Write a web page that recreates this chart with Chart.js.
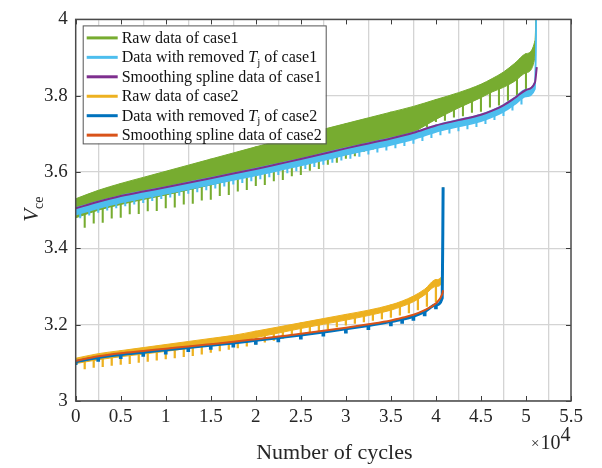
<!DOCTYPE html>
<html>
<head>
<meta charset="utf-8">
<script src="https://cdn.jsdelivr.net/npm/chart.js@4.4.1/dist/chart.umd.min.js"></script>
<style>
  html, body { margin: 0; background: #fff; }
</style>
</head>
<body>
<canvas id="chart" width="602" height="468"></canvas>
<script>
// ---- data (cycles, V) ----
const cycles1 = [0, 2500, 5000, 7500, 10000, 12500, 15000, 17500, 20000, 22500, 25000, 27500, 30000,
  32500, 35000, 37500, 40000, 42500, 45000, 46250, 47500, 48750, 50000, 51000, 51200];
const rawTop1 = [3.530, 3.552, 3.570, 3.586, 3.602, 3.618, 3.634, 3.650, 3.666, 3.682, 3.697, 3.712, 3.727,
  3.742, 3.757, 3.772, 3.790, 3.808, 3.830, 3.845, 3.862, 3.885, 3.910, 3.945, 4.1];
const rawBottom1 = [3.480, 3.500, 3.515, 3.528, 3.540, 3.553, 3.566, 3.580, 3.594, 3.608, 3.622, 3.637, 3.652,
  3.667, 3.682, 3.705, 3.738, 3.768, 3.795, 3.810, 3.822, 3.838, 3.860, 3.900, 4.1];
const removedHi1 = [3.506, 3.523, 3.538, 3.550, 3.561, 3.573, 3.585, 3.597, 3.609, 3.622, 3.635, 3.649, 3.663,
  3.676, 3.689, 3.704, 3.723, 3.737, 3.751, 3.762, 3.776, 3.795, 3.816, 3.836, 4.1];
const removedLo1 = [3.488, 3.505, 3.520, 3.532, 3.543, 3.555, 3.567, 3.579, 3.591, 3.604, 3.617, 3.631, 3.645,
  3.658, 3.671, 3.686, 3.705, 3.719, 3.733, 3.744, 3.758, 3.777, 3.798, 3.818, 4.1];
const smooth1 = [3.505, 3.522, 3.537, 3.549, 3.560, 3.572, 3.584, 3.596, 3.608, 3.621, 3.634, 3.648, 3.662,
  3.675, 3.688, 3.703, 3.722, 3.736, 3.750, 3.761, 3.775, 3.794, 3.815, 3.835, 3.875];

// downward dips of the raw / removed-Tj signals of case 1
const dipCycles1 = [1000, 2000, 3000, 4000, 5000, 6000, 7000, 8000, 9000, 10000, 11000, 12000, 13000, 14000,
  15000, 16000, 17000, 18000, 19000, 20000, 21000, 22000, 23000, 24000, 25000, 26000, 27000, 28000, 29000,
  30000, 31000, 32000, 33000, 34000, 35000, 36000, 37000, 38000, 39000, 40000, 41000, 42000, 43000, 44000,
  45000, 46000, 47000, 48000, 49000, 50000];
const rawDips1 = [3.455, 3.466, 3.468, 3.479, 3.481, 3.490, 3.491, 3.498, 3.499, 3.506, 3.508, 3.516, 3.518,
  3.526, 3.528, 3.538, 3.541, 3.550, 3.554, 3.564, 3.567, 3.577, 3.580, 3.590, 3.593, 3.604, 3.609, 3.620,
  3.625, 3.636, 3.642, 3.654, 3.660, 3.672, 3.678, 3.692, 3.699, 3.712, 3.719, 3.732, 3.735, 3.744, 3.747,
  3.756, 3.759, 3.770, 3.775, 3.788, 3.797, 3.812];
const remDipCycles1 = [500, 1500, 2500, 3500, 4500, 5500, 6500, 7500, 8500, 9500, 10500, 11500, 12500, 13500,
  14500, 15500, 16500, 17500, 18500, 19500, 20500, 21500, 22500, 23500, 24500, 25500, 26500, 27500, 28500,
  29500, 30500, 31500, 32500, 33500, 34500, 35500, 36500, 37500, 38500, 39500, 40500, 41500, 42500, 43500,
  44500, 45500, 46500, 47500, 48500, 49500];
const remDips1 = [3.480, 3.487, 3.494, 3.500, 3.506, 3.511, 3.516, 3.520, 3.525, 3.530, 3.534, 3.539, 3.544,
  3.548, 3.553, 3.558, 3.563, 3.568, 3.572, 3.577, 3.582, 3.587, 3.593, 3.598, 3.603, 3.609, 3.614, 3.620,
  3.625, 3.631, 3.636, 3.641, 3.647, 3.652, 3.657, 3.663, 3.669, 3.675, 3.682, 3.690, 3.697, 3.702, 3.708,
  3.713, 3.719, 3.727, 3.737, 3.748, 3.762, 3.778];

const cycles2 = [0, 2500, 5000, 7500, 10000, 12500, 15000, 17500, 20000, 22500, 25000, 27500, 30000,
  32500, 35000, 36250, 37500, 38750, 40000, 40700, 40800];
const rawTop2 = [3.112, 3.124, 3.132, 3.140, 3.148, 3.156, 3.164, 3.172, 3.183, 3.194, 3.205, 3.216, 3.227,
  3.238, 3.252, 3.262, 3.275, 3.293, 3.318, 3.330, 3.560];
const rawBottom2 = [3.098, 3.108, 3.116, 3.123, 3.130, 3.138, 3.146, 3.155, 3.166, 3.178, 3.190, 3.201, 3.212,
  3.224, 3.238, 3.248, 3.260, 3.278, 3.300, 3.310, 3.560];
const removed2 = [3.103, 3.114, 3.122, 3.128, 3.134, 3.140, 3.146, 3.152, 3.159, 3.166, 3.173, 3.181, 3.189,
  3.198, 3.208, 3.214, 3.222, 3.234, 3.252, 3.270, 3.560];
const smooth2 = [3.105, 3.117, 3.125, 3.131, 3.137, 3.143, 3.149, 3.155, 3.162, 3.169, 3.176, 3.184, 3.192,
  3.201, 3.211, 3.218, 3.226, 3.238, 3.256, 3.280, 3.290];

const dipCycles2 = [1000, 2000, 3000, 4000, 5000, 6000, 7000, 8000, 9000, 10000, 11000, 12000, 13000, 14000,
  15000, 16000, 17000, 18000, 19000, 20000, 21000, 22000, 23000, 24000, 25000, 26000, 27000, 28000, 29000,
  30000, 31000, 32000, 33000, 34000, 35000, 36000, 37000, 38000, 39000, 40000];
const rawDips2 = [3.084, 3.088, 3.090, 3.093, 3.096, 3.098, 3.101, 3.104, 3.107, 3.110, 3.113, 3.116, 3.119,
  3.123, 3.127, 3.131, 3.135, 3.139, 3.144, 3.149, 3.154, 3.159, 3.164, 3.169, 3.174, 3.179, 3.184, 3.189,
  3.194, 3.199, 3.203, 3.207, 3.211, 3.215, 3.219, 3.225, 3.231, 3.239, 3.248, 3.260];
const remDips2 = [3.095, 3.104, 3.111, 3.117, 3.123, 3.129, 3.135, 3.141, 3.148, 3.155, 3.162, 3.170, 3.178,
  3.187, 3.197, 3.203, 3.211, 3.223, 3.241];

const xTicks = [0, 5000, 10000, 15000, 20000, 25000, 30000, 35000, 40000, 45000, 50000, 55000];
const yTicks = [3, 3.2, 3.4, 3.6, 3.8, 4];

const SERIF = '"Liberation Serif", "Times New Roman", serif';
const C = {
  green: '#77AC30', cyan: '#4DBEEE', purple: '#7E2F8E',
  yellow: '#EDB120', blue: '#0072BD', orange: '#D95319'
};

// helpers
const pts = (xs, ys) => xs.map((x, i) => ({ x: x, y: ys[i] }));
function lastAtOrBelow(xs, x) {
  let i = 0;
  while (i + 1 < xs.length && xs[i + 1] <= x) i++;
  return i;
}
// dips: vertical bars from the dip value up into the signal (upper part hidden)
function dips(xs, lows, refX, refY) {
  return xs.map((x, i) => ({ x: x, y: [lows[i], refY[lastAtOrBelow(refX, x)]] }));
}

function line(data, color, width, order, extra) {
  return Object.assign({
    type: 'line', data: data, borderColor: color, backgroundColor: color,
    borderWidth: width, pointRadius: 0, cubicInterpolationMode: 'monotone',
    fill: false, order: order
  }, extra || {});
}
function bars(data, color, thick, order) {
  return {
    type: 'bar', data: data, backgroundColor: color, borderWidth: 0,
    barThickness: thick, grouped: false, order: order
  };
}

const legendItems = [
  { color: C.green, parts: [{ t: 'Raw data of case1' }] },
  { color: C.cyan, parts: [{ t: 'Data with removed ' }, { t: 'T', it: true }, { t: 'j', sub: true }, { t: ' of case1' }] },
  { color: C.purple, parts: [{ t: 'Smoothing spline data of case1' }] },
  { color: C.yellow, parts: [{ t: 'Raw data of case2' }] },
  { color: C.blue, parts: [{ t: 'Data with removed ' }, { t: 'T', it: true }, { t: 'j', sub: true }, { t: ' of case2' }] },
  { color: C.orange, parts: [{ t: 'Smoothing spline data of case2' }] }
];

function drawRich(ctx, parts, x, y, size) {
  parts.forEach(p => {
    let s = size, dy = 0;
    if (p.sub) { s = Math.round(size * 0.68); dy = size * 0.22; }
    ctx.font = (p.it ? 'italic ' : '') + s + 'px ' + SERIF;
    ctx.fillText(p.t, x, y + dy);
    x += ctx.measureText(p.t).width;
  });
  return x;
}
function richWidth(ctx, parts, size) {
  let w = 0;
  parts.forEach(p => {
    const s = p.sub ? Math.round(size * 0.68) : size;
    ctx.font = (p.it ? 'italic ' : '') + s + 'px ' + SERIF;
    w += ctx.measureText(p.t).width;
  });
  return w;
}

const decor = {
  id: 'decor',
  afterDraw(chart) {
    const { ctx, chartArea: a, scales: { x, y } } = chart;
    ctx.save();
    // inward ticks and box
    ctx.strokeStyle = '#3c3c3c';
    ctx.lineWidth = 1;
    ctx.beginPath();
    x.ticks.forEach(t => {
      const px = Math.round(x.getPixelForValue(t.value)) + 0.5;
      ctx.moveTo(px, a.bottom); ctx.lineTo(px, a.bottom - 5);
      ctx.moveTo(px, a.top); ctx.lineTo(px, a.top + 5);
    });
    y.ticks.forEach(t => {
      const py = Math.round(y.getPixelForValue(t.value)) + 0.5;
      ctx.moveTo(a.left, py); ctx.lineTo(a.left + 5, py);
      ctx.moveTo(a.right, py); ctx.lineTo(a.right - 5, py);
    });
    ctx.stroke();
    ctx.strokeStyle = '#4a4a4a';
    ctx.lineWidth = 1.5;
    ctx.strokeRect(a.left, a.top, a.right - a.left, a.bottom - a.top);

    ctx.fillStyle = '#262626';
    ctx.textBaseline = 'alphabetic';
    ctx.textAlign = 'left';

    // x title
    ctx.font = '22px ' + SERIF;
    const xt = 'Number of cycles';
    const xw = ctx.measureText(xt).width;
    ctx.fillText(xt, (a.left + a.right) / 2 + 11 - xw / 2, 459);

    // exponent
    let ex = a.right - 40;
    ctx.font = '15px ' + SERIF;
    ctx.fillText('\u00d7', ex, 448);
    ex += ctx.measureText('\u00d7').width + 1;
    ctx.font = '20px ' + SERIF;
    ctx.fillText('10', ex, 449);
    ex += ctx.measureText('10').width;
    ctx.fillText('4', ex, 441);

    // y title
    ctx.save();
    ctx.translate(31, (a.top + a.bottom) / 2 - 1);
    ctx.rotate(-Math.PI / 2);
    const yParts = [{ t: 'V', it: true }, { t: 'ce', sub: true }];
    const yw = richWidth(ctx, yParts, 21);
    drawRich(ctx, yParts, -yw / 2, 7, 21);
    ctx.restore();

    // legend
    const bx = a.left + 7, by = a.top + 6, bw = 243, bh = 118;
    ctx.fillStyle = '#fff';
    ctx.fillRect(bx, by, bw, bh);
    ctx.strokeStyle = '#555';
    ctx.lineWidth = 1;
    ctx.strokeRect(bx + 0.5, by + 0.5, bw, bh);
    legendItems.forEach((it, i) => {
      const cy = by + 12.5 + i * 19.45;
      ctx.strokeStyle = it.color;
      ctx.lineWidth = 3;
      ctx.beginPath();
      ctx.moveTo(bx + 4, cy); ctx.lineTo(bx + 35, cy);
      ctx.stroke();
      ctx.fillStyle = '#111';
      drawRich(ctx, it.parts, bx + 39, cy + 5, 16);
    });
    ctx.restore();
  }
};

new Chart(document.getElementById('chart'), {
  type: 'line',
  data: {
    datasets: [
      line(pts(cycles1, rawTop1), C.green, 1, 30, { fill: '+1' }),
      line(pts(cycles1, rawBottom1), C.green, 1, 30),
      bars(dips(dipCycles1, rawDips1, cycles1, rawTop1), C.green, 1.4, 31),
      bars(dips(remDipCycles1, remDips1, cycles1, smooth1), C.cyan, 1.4, 25),
      line(pts(cycles1, removedHi1), C.cyan, 1.5, 24, { fill: '+1' }),
      line(pts(cycles1, removedLo1), C.cyan, 1.5, 24),
      line(pts(cycles1, smooth1), C.purple, 2, 20),
      line(pts(cycles2, rawTop2), C.yellow, 1, 12, { fill: '+1' }),
      line(pts(cycles2, rawBottom2), C.yellow, 1, 12),
      bars(dips(dipCycles2, rawDips2, cycles2, rawTop2), C.yellow, 1.6, 13),
      bars(dips(cycles2.slice(0, remDips2.length), remDips2, cycles2, removed2), C.blue, 3, 6),
      line(pts(cycles2, removed2), C.blue, 3, 5),
      line(pts(cycles2, smooth2), C.orange, 2, 1)
    ]
  },
  options: {
    responsive: false,
    animation: false,
    events: [],
    layout: { padding: { left: 0, right: 31, top: 11, bottom: 0 } },
    plugins: { legend: { display: false }, tooltip: { enabled: false } },
    scales: {
      x: {
        type: 'linear', min: 0, max: 55000, offset: false,
        afterBuildTicks: s => { s.ticks = xTicks.map(v => ({ value: v })); },
        afterFit: s => { s.height = 67; },
        ticks: {
          callback: v => String(v / 10000),
          font: { family: SERIF, size: 19 }, color: '#262626',
          padding: 5, maxRotation: 0, autoSkip: false
        },
        grid: { color: '#d4d4d4', lineWidth: 1.3, drawTicks: false },
        border: { display: false }
      },
      y: {
        type: 'linear', min: 3, max: 4,
        afterBuildTicks: s => { s.ticks = yTicks.map(v => ({ value: v })); },
        afterFit: s => { s.width = 75.7; },
        ticks: {
          callback: v => String(+v.toFixed(1)),
          font: { family: SERIF, size: 19 }, color: '#262626',
          padding: 8
        },
        grid: { color: '#d4d4d4', lineWidth: 1.3, drawTicks: false },
        border: { display: false }
      }
    }
  },
  plugins: [decor]
});
</script>
</body>
</html>
